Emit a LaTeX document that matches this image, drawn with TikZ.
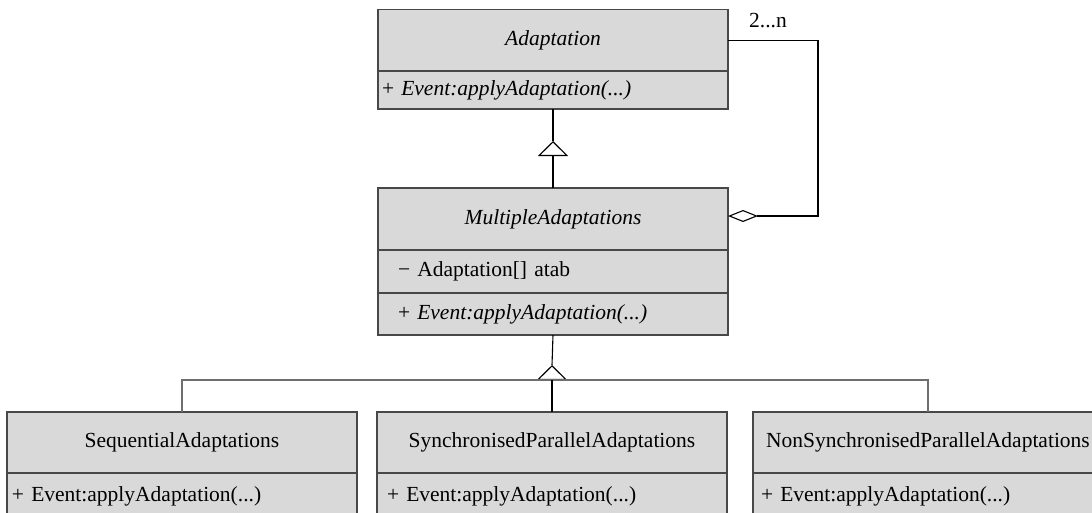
\documentclass[tikz,border=0pt]{standalone}
\usepackage{fontspec}
\setmainfont{Liberation Serif}
\usetikzlibrary{arrows.meta}
\definecolor{boxfill}{RGB}{217,217,217}
\definecolor{boxline}{RGB}{72,72,72}
\definecolor{busline}{RGB}{110,110,110}

\begin{document}
\begin{tikzpicture}[x=1pt,y=-1pt,
  compartment/.style={draw=boxline, fill=boxfill, line width=1.1pt,
    minimum width=350pt, inner sep=0pt, outer sep=0pt,
    font=\fontsize{21.5}{25}\selectfont, text height=14.5pt, text depth=4.5pt},
  member/.style={compartment, align=left, inner xsep=5pt, text width=340pt},
  link/.style={line width=1.1pt, draw=black},
  generalise/.style={link, -{Triangle[open, width=30pt, length=15pt]}},
  aggregate/.style={link, {Diamond[open, width=12pt, length=30pt]}-},
]
\useasboundingbox (0,0) rectangle (1092,512);

% Abstract base class
\node[compartment, minimum height=61.5pt] (adT) at (553,40.25) {\textit{Adaptation}};
\node[member, minimum height=38pt, inner xsep=4pt, text width=342pt] (adM) at (553,90)
  {+ \textit{Event:applyAdaptation(...)}};

% Composite class
\node[compartment, minimum height=62pt] (maT) at (553,219) {\textit{MultipleAdaptations}};
\node[member, minimum height=43pt, inner xsep=20pt, text width=310pt] (maA) at (553,271.5)
  {− Adaptation[] atab};
\node[member, minimum height=42pt, inner xsep=20pt, text width=310pt] (maM) at (553,314)
  {+ \textit{Event:applyAdaptation(...)}};

% Concrete subclasses
\node[compartment, minimum height=61pt] (sqT) at (182,442.5) {SequentialAdaptations};
\node[member, minimum height=47pt] (sqM) at (182,496.5) {+ Event:applyAdaptation(...)};

\node[compartment, minimum height=61pt] (spT) at (552,442.5) {SynchronisedParallelAdaptations};
\node[member, minimum height=47pt, inner xsep=10pt, text width=330pt] (spM) at (552,496.5)
  {+ Event:applyAdaptation(...)};

\node[compartment, minimum height=61pt] (npT) at (928,442.5) {NonSynchronisedParallelAdaptations};
\node[member, minimum height=47pt, inner xsep=8pt, text width=334pt] (npM) at (928,496.5)
  {+ Event:applyAdaptation(...)};

% Generalisation: MultipleAdaptations -> Adaptation
\coordinate (apexA) at (553,141);
\draw[generalise] (maT.north) -- (apexA);
\draw[link] (apexA) -- (adM.south);

% Generalisation: subclasses -> MultipleAdaptations
\coordinate (bar) at (552,380);
\coordinate (apexB) at (552,365);
\draw[generalise] (bar) -- (apexB);
\draw[link] (apexB) -- (maM.south);
\draw[link, draw=busline] (sqT.north) |- (bar) -| (npT.north);
\draw[link] (spT.north) -- (bar);

% Aggregation with multiplicity
\draw[aggregate] ([yshift=3pt]maT.east) -- ++(90,0) |- (adT.east);
\node[font=\fontsize{21.5}{25}\selectfont, inner sep=0pt] (mult) at (768,21) {2...n};
\end{tikzpicture}
\end{document}
